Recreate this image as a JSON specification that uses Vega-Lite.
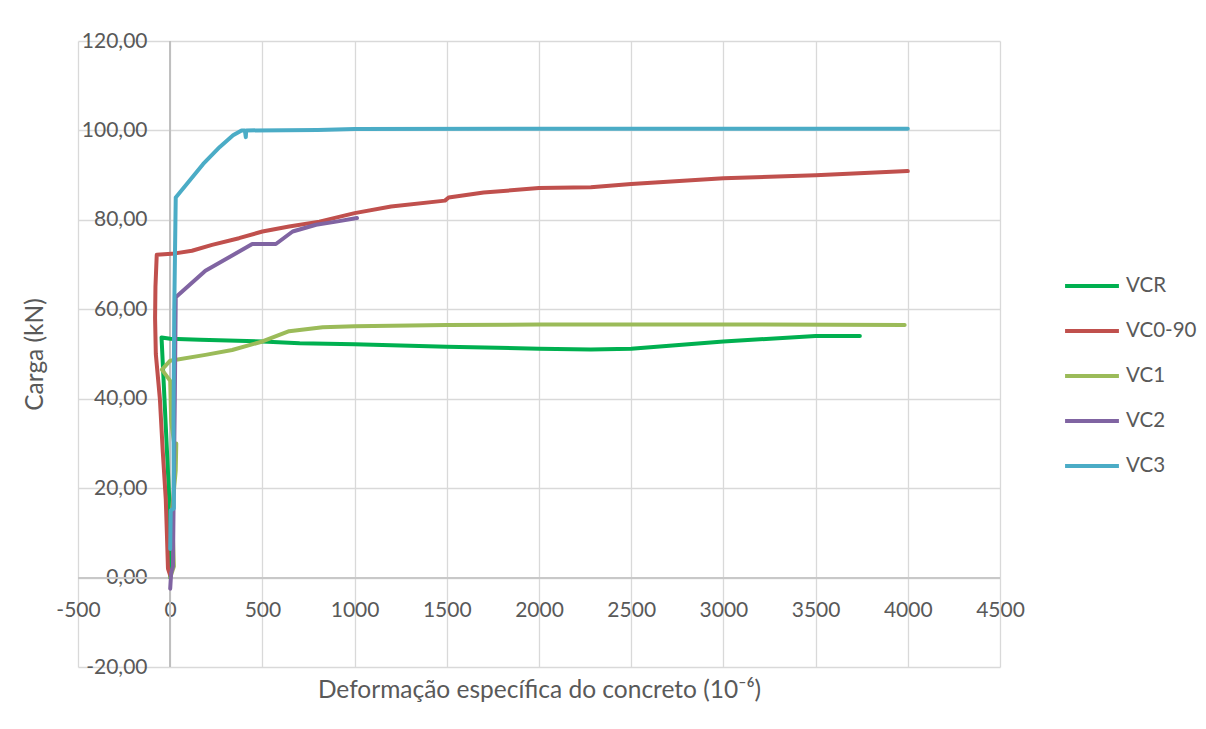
{
  "$schema": "https://vega.github.io/schema/vega-lite/v6.json",
  "width": 922,
  "height": 626,
  "autosize": {"type": "none"},
  "padding": {"left": 78, "top": 41, "right": 206, "bottom": 62},
  "background": "white",
  "config": {
    "locale": {"number": {"decimal": ",", "thousands": ".", "grouping": [3], "currency": ["", ""], "minus": "-"}},
    "font": "Lato",
    "view": {"stroke": null},
    "axis": {
      "labelColor": "#595959", "titleColor": "#595959",
      "labelFont": "Lato", "titleFont": "Lato",
      "labelFontSize": 21, "titleFontSize": 24.5, "titleFontWeight": "normal",
      "gridColor": "#d9d9d9", "gridWidth": 1.3, "domain": false, "ticks": false
    },
    "legend": {"labelFont": "Lato", "labelFontSize": 20.5, "labelColor": "#595959", "padding": 0}
  },
  "data": {"values": [
    {"s": "VCR", "i": 0, "x": 0, "y": 0},
    {"s": "VCR", "i": 1, "x": -2, "y": 8},
    {"s": "VCR", "i": 2, "x": -5, "y": 17.5},
    {"s": "VCR", "i": 3, "x": -47, "y": 53.7},
    {"s": "VCR", "i": 4, "x": 0, "y": 53.4},
    {"s": "VCR", "i": 5, "x": 162, "y": 53.2},
    {"s": "VCR", "i": 6, "x": 500, "y": 52.8},
    {"s": "VCR", "i": 7, "x": 702, "y": 52.4},
    {"s": "VCR", "i": 8, "x": 1000, "y": 52.2},
    {"s": "VCR", "i": 9, "x": 1500, "y": 51.6},
    {"s": "VCR", "i": 10, "x": 2000, "y": 51.2},
    {"s": "VCR", "i": 11, "x": 2281, "y": 51.0},
    {"s": "VCR", "i": 12, "x": 2500, "y": 51.2},
    {"s": "VCR", "i": 13, "x": 3000, "y": 52.8},
    {"s": "VCR", "i": 14, "x": 3500, "y": 54.0},
    {"s": "VCR", "i": 15, "x": 3740, "y": 54.0},

    {"s": "VC0-90", "i": 0, "x": 0, "y": 0.5},
    {"s": "VC0-90", "i": 1, "x": -12, "y": 2},
    {"s": "VC0-90", "i": 2, "x": -18, "y": 10},
    {"s": "VC0-90", "i": 3, "x": -24, "y": 17.5},
    {"s": "VC0-90", "i": 4, "x": -40, "y": 28},
    {"s": "VC0-90", "i": 5, "x": -56, "y": 40},
    {"s": "VC0-90", "i": 6, "x": -78, "y": 50},
    {"s": "VC0-90", "i": 7, "x": -82, "y": 58},
    {"s": "VC0-90", "i": 8, "x": -80, "y": 65},
    {"s": "VC0-90", "i": 9, "x": -73, "y": 72.2},
    {"s": "VC0-90", "i": 10, "x": 27, "y": 72.5},
    {"s": "VC0-90", "i": 11, "x": 118, "y": 73.1},
    {"s": "VC0-90", "i": 12, "x": 227, "y": 74.4},
    {"s": "VC0-90", "i": 13, "x": 373, "y": 75.9},
    {"s": "VC0-90", "i": 14, "x": 500, "y": 77.4},
    {"s": "VC0-90", "i": 15, "x": 645, "y": 78.5},
    {"s": "VC0-90", "i": 16, "x": 809, "y": 79.6},
    {"s": "VC0-90", "i": 17, "x": 1000, "y": 81.5},
    {"s": "VC0-90", "i": 18, "x": 1198, "y": 83.0},
    {"s": "VC0-90", "i": 19, "x": 1490, "y": 84.3},
    {"s": "VC0-90", "i": 20, "x": 1510, "y": 85.0},
    {"s": "VC0-90", "i": 21, "x": 1700, "y": 86.1},
    {"s": "VC0-90", "i": 22, "x": 2000, "y": 87.1},
    {"s": "VC0-90", "i": 23, "x": 2281, "y": 87.3},
    {"s": "VC0-90", "i": 24, "x": 2500, "y": 88.0},
    {"s": "VC0-90", "i": 25, "x": 3000, "y": 89.3},
    {"s": "VC0-90", "i": 26, "x": 3500, "y": 90.0},
    {"s": "VC0-90", "i": 27, "x": 4000, "y": 90.9},

    {"s": "VC1", "i": 0, "x": 0, "y": 0},
    {"s": "VC1", "i": 1, "x": 20, "y": 2.5},
    {"s": "VC1", "i": 2, "x": 10, "y": 15},
    {"s": "VC1", "i": 3, "x": 30, "y": 24},
    {"s": "VC1", "i": 4, "x": 33, "y": 30},
    {"s": "VC1", "i": 5, "x": 25, "y": 29},
    {"s": "VC1", "i": 6, "x": 5, "y": 35},
    {"s": "VC1", "i": 7, "x": 0, "y": 44},
    {"s": "VC1", "i": 8, "x": -45, "y": 46.5},
    {"s": "VC1", "i": 9, "x": 0, "y": 48.5},
    {"s": "VC1", "i": 10, "x": 191, "y": 49.8},
    {"s": "VC1", "i": 11, "x": 336, "y": 50.9},
    {"s": "VC1", "i": 12, "x": 500, "y": 52.8},
    {"s": "VC1", "i": 13, "x": 645, "y": 55.1},
    {"s": "VC1", "i": 14, "x": 827, "y": 56.0},
    {"s": "VC1", "i": 15, "x": 1000, "y": 56.2},
    {"s": "VC1", "i": 16, "x": 1500, "y": 56.5},
    {"s": "VC1", "i": 17, "x": 2000, "y": 56.6},
    {"s": "VC1", "i": 18, "x": 3000, "y": 56.6},
    {"s": "VC1", "i": 19, "x": 3983, "y": 56.5},

    {"s": "VC2", "i": 0, "x": 0, "y": -2.5},
    {"s": "VC2", "i": 1, "x": 5, "y": 1},
    {"s": "VC2", "i": 2, "x": 15, "y": 2.5},
    {"s": "VC2", "i": 3, "x": 18, "y": 15},
    {"s": "VC2", "i": 4, "x": 25, "y": 40},
    {"s": "VC2", "i": 5, "x": 30, "y": 62.7},
    {"s": "VC2", "i": 6, "x": 191, "y": 68.6},
    {"s": "VC2", "i": 7, "x": 445, "y": 74.6},
    {"s": "VC2", "i": 8, "x": 573, "y": 74.6},
    {"s": "VC2", "i": 9, "x": 664, "y": 77.4},
    {"s": "VC2", "i": 10, "x": 791, "y": 78.9},
    {"s": "VC2", "i": 11, "x": 900, "y": 79.6},
    {"s": "VC2", "i": 12, "x": 1013, "y": 80.4},

    {"s": "VC3", "i": 0, "x": 0, "y": 6.4},
    {"s": "VC3", "i": 1, "x": 3, "y": 15},
    {"s": "VC3", "i": 2, "x": 20, "y": 15.5},
    {"s": "VC3", "i": 3, "x": 18, "y": 35},
    {"s": "VC3", "i": 4, "x": 22, "y": 60},
    {"s": "VC3", "i": 5, "x": 30, "y": 85},
    {"s": "VC3", "i": 6, "x": 70, "y": 87},
    {"s": "VC3", "i": 7, "x": 179, "y": 92.5},
    {"s": "VC3", "i": 8, "x": 269, "y": 96.3},
    {"s": "VC3", "i": 9, "x": 341, "y": 98.9},
    {"s": "VC3", "i": 10, "x": 387, "y": 100},
    {"s": "VC3", "i": 11, "x": 405, "y": 100},
    {"s": "VC3", "i": 12, "x": 410, "y": 98.5},
    {"s": "VC3", "i": 13, "x": 412, "y": 100},
    {"s": "VC3", "i": 14, "x": 800, "y": 100.1},
    {"s": "VC3", "i": 15, "x": 1000, "y": 100.3},
    {"s": "VC3", "i": 16, "x": 2000, "y": 100.4},
    {"s": "VC3", "i": 17, "x": 4000, "y": 100.4}
  ]},
  "layer": [
    {
      "mark": {"type": "rule", "color": "#bfbfbf", "strokeWidth": 1.5},
      "encoding": {"x": {"datum": 0, "type": "quantitative"}}
    },
    {
      "mark": {"type": "rule", "color": "#c8c8c8", "strokeWidth": 1.3},
      "encoding": {"y": {"datum": 0, "type": "quantitative"}}
    },
    {
      "mark": {"type": "line", "strokeWidth": 4, "strokeJoin": "round", "strokeCap": "round"},
      "encoding": {
        "x": {
          "field": "x", "type": "quantitative",
          "scale": {"domain": [-500, 4500], "nice": false, "zero": false},
          "axis": {
            "values": [-500, 0, 500, 1000, 1500, 2000, 2500, 3000, 3500, 4000, 4500],
            "format": "d", "title": "Deformação específica do concreto (10⁻⁶)",
            "grid": true, "labelBaseline": "middle", "labelPadding": -57,
            "labelFlush": false, "labelOverlap": false,
            "titleY": 23, "titleBaseline": "middle"
          }
        },
        "y": {
          "field": "y", "type": "quantitative",
          "scale": {"domain": [-20, 120], "nice": false, "zero": false},
          "axis": {
            "values": [-20, 0, 20, 40, 60, 80, 100, 120],
            "format": ".2f", "title": "Carga (kN)", "grid": true,
            "labelAlign": "right", "labelBaseline": "middle", "labelPadding": -69,
            "labelFlush": false, "labelOverlap": false,
            "titleX": -43, "titleY": 313, "titleAngle": -90,
            "titleAlign": "center", "titleBaseline": "middle"
          }
        },
        "color": {
          "field": "s", "type": "nominal",
          "scale": {"domain": ["VCR", "VC0-90", "VC1", "VC2", "VC3"], "range": ["#00B050", "#C0504D", "#9BBB59", "#8064A2", "#4BACC6"]},
          "legend": {
            "title": null, "orient": "none", "legendX": 985, "legendY": 216,
            "symbolType": "stroke", "symbolSize": 2900, "symbolStrokeWidth": 4,
            "labelOffset": 5, "rowPadding": 5
          }
        },
        "order": {"field": "i", "type": "quantitative"}
      }
    }
  ]
}
